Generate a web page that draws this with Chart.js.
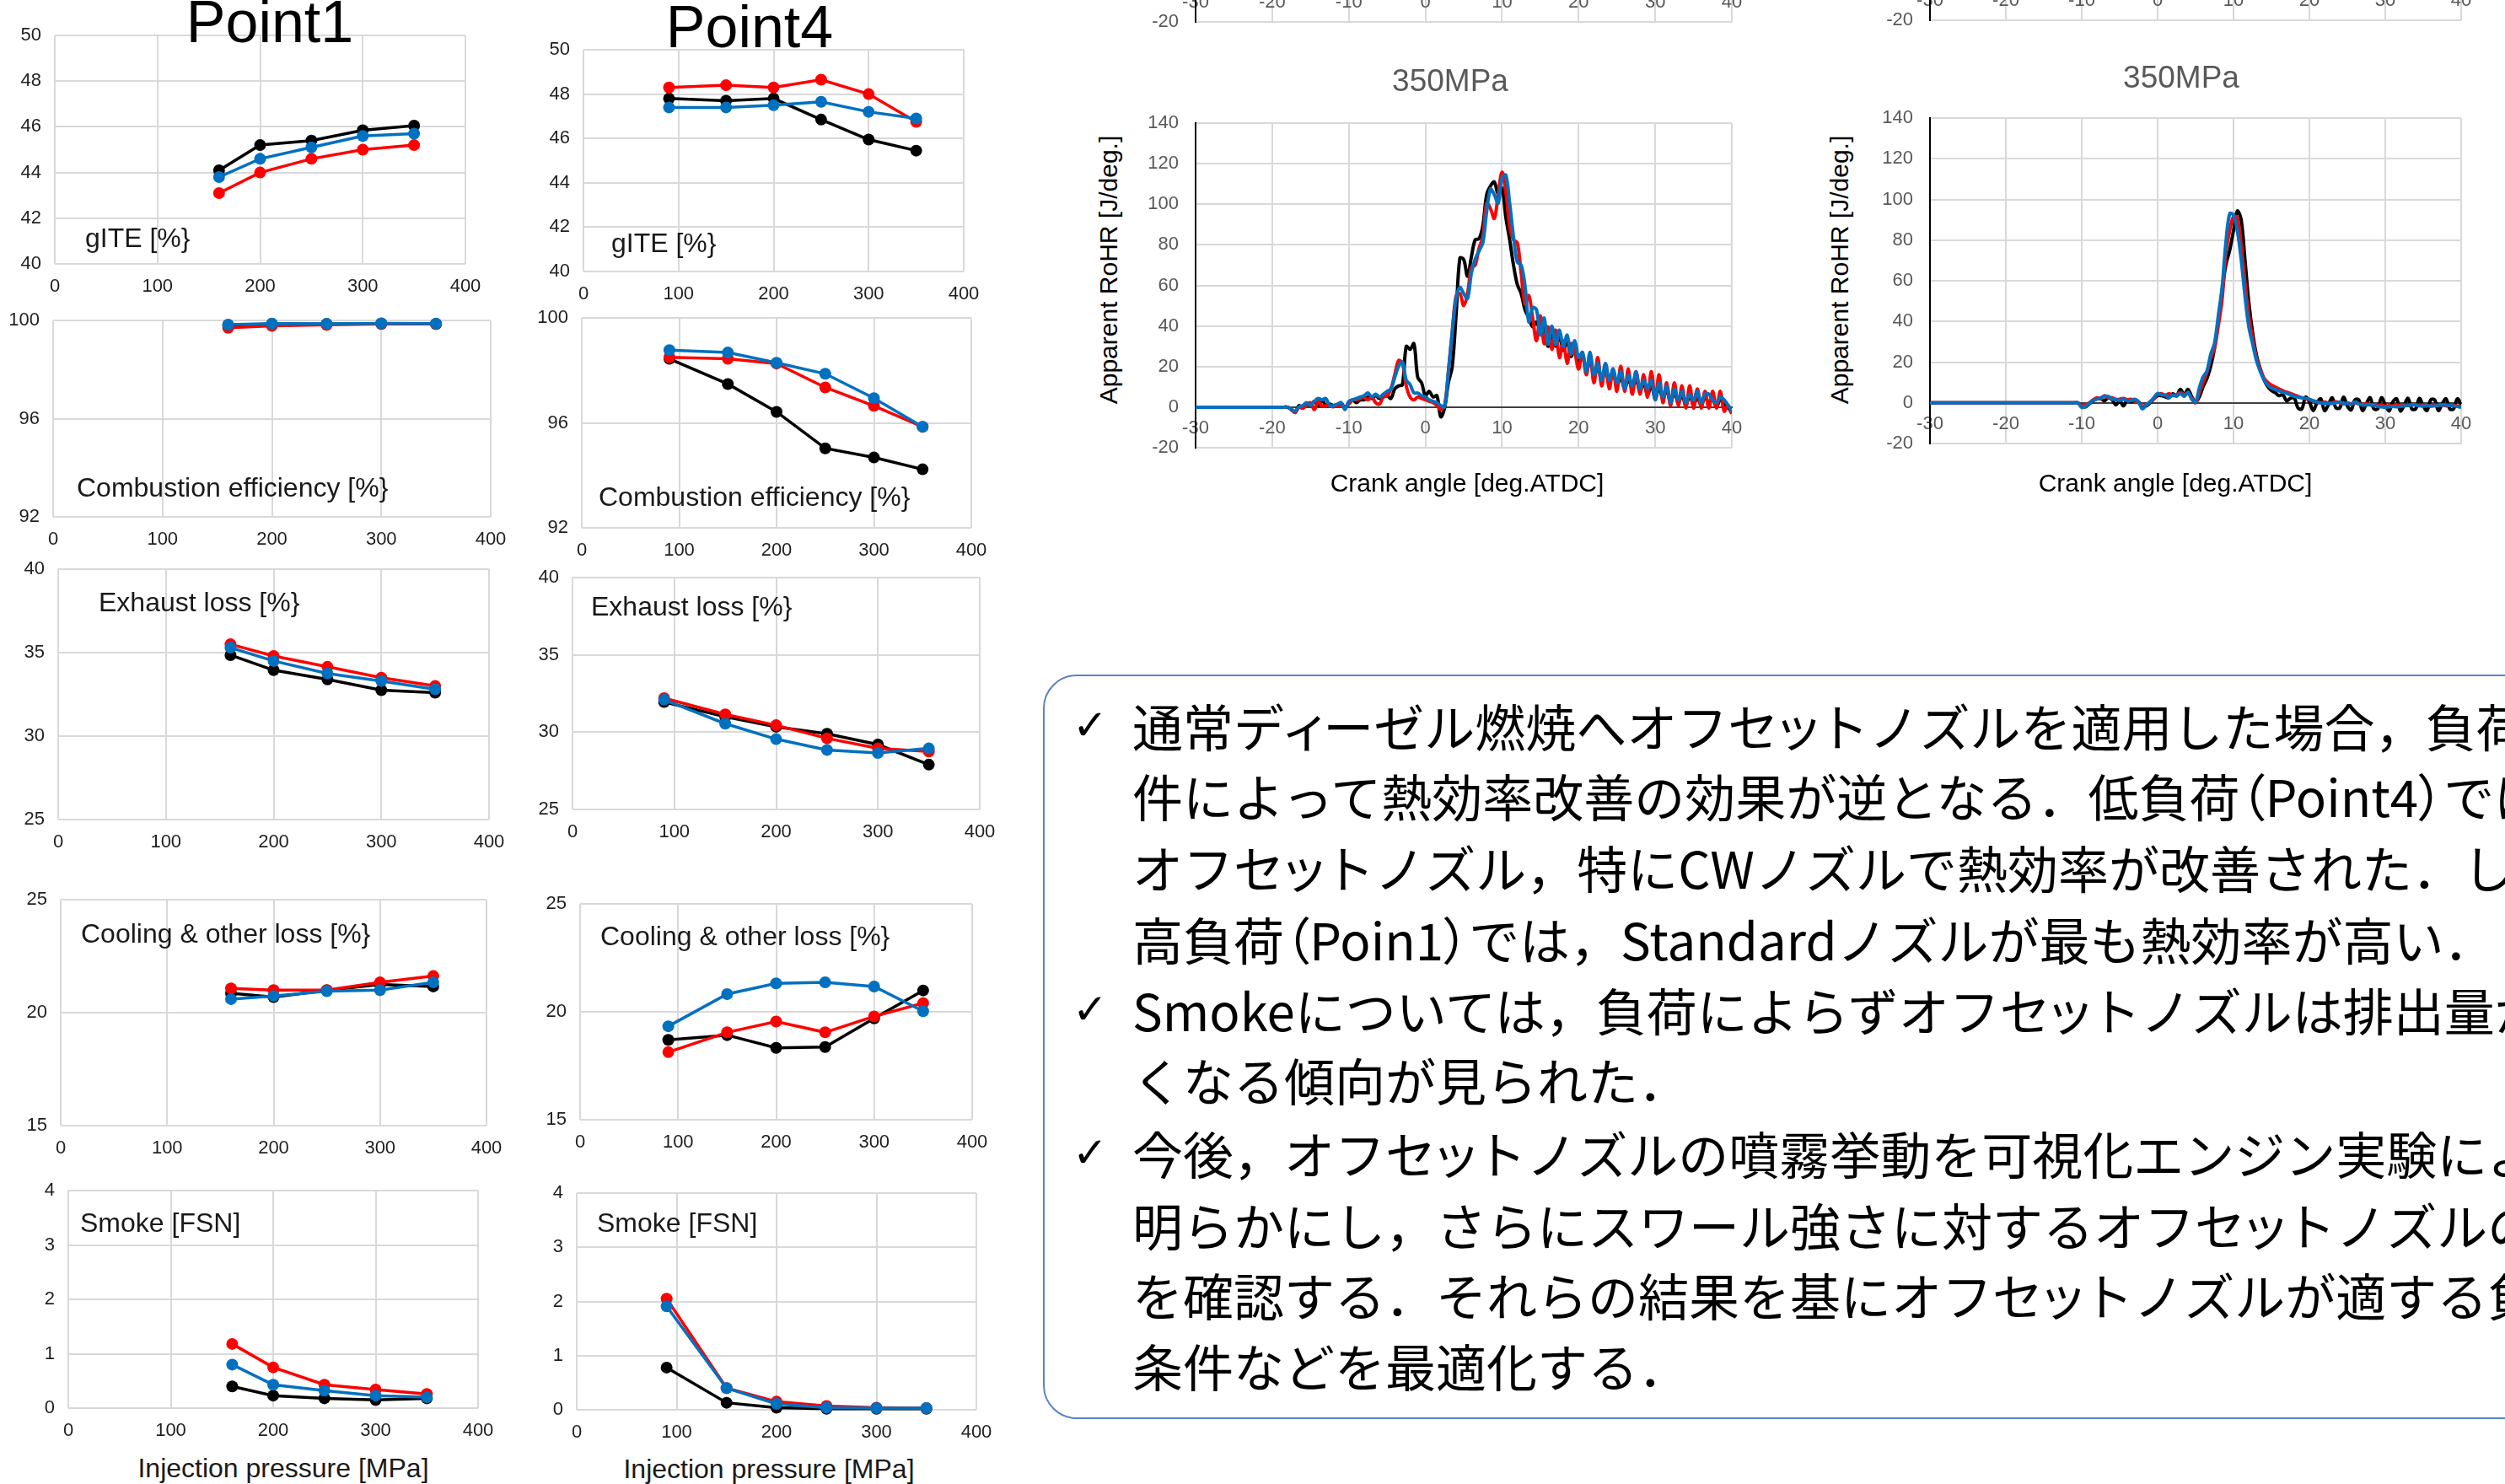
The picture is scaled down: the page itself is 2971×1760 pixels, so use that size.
<!DOCTYPE html>
<html>
<head>
<meta charset="utf-8">
<script src="https://cdn.jsdelivr.net/npm/chart.js@4.4.1/dist/chart.umd.min.js"></script>
<style>
body { margin:0; width:2971px; height:1760px; overflow:hidden; background:#fff; position:relative;
       font-family:"Liberation Sans", Arial, sans-serif; }
canvas { position:absolute; }
.t { position:absolute; white-space:nowrap; line-height:1; color:#1a1a1a; }
.lab { font-size:32px; transform:translate(0,-50%); }
.ctr { transform:translate(-50%,-50%); }
.big { font-size:70px; color:#000; }
.gray { color:#595959; }
.rot { transform:translate(-50%,-50%) rotate(-90deg); font-size:30px; color:#000; }
#box { position:absolute; left:1237px; top:800px; width:1800px; height:879px;
       border:2px solid #5a82c8; border-radius:40px; }
.jp { position:absolute; left:1343px; font-family:"Noto Sans CJK JP", sans-serif; font-size:60px;
      line-height:1; white-space:nowrap; color:#000; transform:translate(0,-50%); }
.jp .p { font-feature-settings:"palt"; }
.chk { position:absolute; left:1272px; font-family:"DejaVu Sans", sans-serif; font-size:50px;
       line-height:1; color:#000; transform:translate(0,-50%); }
</style>
</head>
<body>

<div class="t big ctr" style="left:320px;top:26px;">Point1</div>
<div class="t big ctr" style="left:889px;top:32px;">Point4</div>

<div class="t lab" style="left:101px;top:282px;">gITE [%}</div>
<div class="t lab" style="left:725px;top:288px;">gITE [%}</div>
<div class="t lab" style="left:91px;top:578px;">Combustion efficiency [%}</div>
<div class="t lab" style="left:710px;top:589px;">Combustion efficiency [%}</div>
<div class="t lab" style="left:117px;top:714px;">Exhaust loss [%}</div>
<div class="t lab" style="left:701px;top:719px;">Exhaust loss [%}</div>
<div class="t lab" style="left:96px;top:1107px;">Cooling &amp; other loss [%}</div>
<div class="t lab" style="left:712px;top:1110px;">Cooling &amp; other loss [%}</div>
<div class="t lab" style="left:95px;top:1450px;">Smoke [FSN]</div>
<div class="t lab" style="left:708px;top:1450px;">Smoke [FSN]</div>
<div class="t ctr" style="left:336px;top:1741px;font-size:32px;">Injection pressure [MPa]</div>
<div class="t ctr" style="left:912px;top:1742px;font-size:32px;">Injection pressure [MPa]</div>

<div class="t ctr gray" style="left:1720px;top:95px;font-size:37px;">350MPa</div>
<div class="t ctr gray" style="left:2587px;top:91px;font-size:37px;">350MPa</div>
<div class="t rot" style="left:1315px;top:320px;">Apparent RoHR [J/deg.]</div>
<div class="t rot" style="left:2182px;top:320px;">Apparent RoHR [J/deg.]</div>
<div class="t ctr" style="left:1740px;top:573px;font-size:30px;color:#000;">Crank angle [deg.ATDC]</div>
<div class="t ctr" style="left:2580px;top:573px;font-size:30px;color:#000;">Crank angle [deg.ATDC]</div>

<div id="box"></div>
<div class="chk" style="top:860px;">✓</div>
<div class="jp" style="top:860px;">通常デ<span class="p">ィ</span>ーゼル燃焼へオフセ<span class="p">ッ</span>トノズルを適用した場合，負荷条</div>
<div class="jp" style="top:943px;">件によって熱効率改善の効果が逆となる．低負荷<span class="p">（</span>Point4<span class="p">）</span>では</div>
<div class="jp" style="top:1028px;">オフセ<span class="p">ッ</span>トノズル，特にCWノズルで熱効率が改善された．しかし</div>
<div class="jp" style="top:1113px;">高負荷<span class="p">（</span>Poin1<span class="p">）</span>では，Standardノズルが最も熱効率が高い．</div>
<div class="chk" style="top:1197px;">✓</div>
<div class="jp" style="top:1197px;">Smokeについては，負荷によらずオフセ<span class="p">ッ</span>トノズルは排出量が多</div>
<div class="jp" style="top:1280px;">くなる傾向が見られた．</div>
<div class="chk" style="top:1367px;">✓</div>
<div class="jp" style="top:1367px;">今後，オフセ<span class="p">ッ</span>トノズルの噴霧挙動を可視化エンジン実験により</div>
<div class="jp" style="top:1452px;">明らかにし，さらにスワール強さに対するオフセ<span class="p">ッ</span>トノズルの効果</div>
<div class="jp" style="top:1535px;">を確認する．それらの結果を基にオフセ<span class="p">ッ</span>トノズルが適する負荷</div>
<div class="jp" style="top:1619px;">条件などを最適化する．</div>

<script>
// injection pressures [MPa]
const p1Press = [160, 200, 250, 300, 350];
const p4Press = [90, 150, 200, 250, 300, 350];

// Point1 (black = Standard, red = CW, blue = CCW)
const p1GiteStd = [44.1, 45.2, 45.4, 45.85, 46.05];
const p1GiteCw  = [43.1, 44.0, 44.6, 45.0, 45.2];
const p1GiteCcw = [43.8, 44.6, 45.1, 45.6, 45.7];
const p1CombStd = [99.8, 99.85, 99.85, 99.87, 99.85];
const p1CombCw  = [99.7, 99.78, 99.82, 99.85, 99.85];
const p1CombCcw = [99.83, 99.87, 99.86, 99.88, 99.87];
const p1ExhStd = [34.85, 33.95, 33.4, 32.75, 32.6];
const p1ExhCw  = [35.5, 34.8, 34.15, 33.5, 33.0];
const p1ExhCcw = [35.3, 34.5, 33.75, 33.3, 32.8];
const p1CoolStd = [20.86, 20.69, 20.99, 21.25, 21.16];
const p1CoolCw  = [21.07, 21.0, 21.0, 21.34, 21.62];
const p1CoolCcw = [20.6, 20.74, 20.95, 21.0, 21.34];
const p1SmokeStd = [0.4, 0.23, 0.18, 0.15, 0.18];
const p1SmokeCw  = [1.18, 0.75, 0.43, 0.34, 0.26];
const p1SmokeCcw = [0.8, 0.43, 0.32, 0.23, 0.2];

// Point4
const p4GiteStd = [47.8, 47.7, 47.8, 46.85, 45.95, 45.45];
const p4GiteCw  = [48.3, 48.4, 48.3, 48.65, 48.0, 46.75];
const p4GiteCcw = [47.4, 47.4, 47.5, 47.65, 47.2, 46.9];
const p4CombStd = [98.44, 97.48, 96.42, 95.03, 94.68, 94.23];
const p4CombCw  = [98.5, 98.44, 98.26, 97.35, 96.65, 95.85];
const p4CombCcw = [98.77, 98.68, 98.29, 97.87, 96.94, 95.85];
const p4ExhStd = [31.95, 31.0, 30.35, 29.9, 29.2, 27.9];
const p4ExhCw  = [32.2, 31.15, 30.45, 29.6, 28.95, 28.75];
const p4ExhCcw = [32.1, 30.55, 29.55, 28.85, 28.65, 28.95];
const p4CoolStd = [18.7, 18.92, 18.33, 18.37, 19.7, 20.99];
const p4CoolCw  = [18.13, 19.05, 19.55, 19.05, 19.79, 20.4];
const p4CoolCcw = [19.33, 20.82, 21.32, 21.37, 21.17, 20.03];
const p4SmokeStd = [0.78, 0.13, 0.04, 0.02, 0.02, 0.02];
const p4SmokeCw  = [2.05, 0.4, 0.15, 0.07, 0.04, 0.03];
const p4SmokeCcw = [1.91, 0.4, 0.11, 0.04, 0.03, 0.03];

// crank angle [deg.ATDC]
const crank = [
  -30,-29.5,-29,-28.5,-28,-27.5,-27,-26.5,-26,-25.5,
  -25,-24.5,-24,-23.5,-23,-22.5,-22,-21.5,-21,-20.5,
  -20,-19.5,-19,-18.5,-18,-17.5,-17,-16.5,-16,-15.5,
  -15,-14.5,-14,-13.5,-13,-12.5,-12,-11.5,-11,-10.5,
  -10,-9.5,-9,-8.5,-8,-7.5,-7,-6.5,-6,-5.5,
  -5,-4.5,-4,-3.5,-3,-2.5,-2,-1.5,-1,-0.5,
  0,0.5,1,1.5,2,2.5,3,3.5,4,4.5,
  5,5.5,6,6.5,7,7.5,8,8.5,9,9.5,
  10,10.5,11,11.5,12,12.5,13,13.5,14,14.5,
  15,15.5,16,16.5,17,17.5,18,18.5,19,19.5,
  20,20.5,21,21.5,22,22.5,23,23.5,24,24.5,
  25,25.5,26,26.5,27,27.5,28,28.5,29,29.5,
  30,30.5,31,31.5,32,32.5,33,33.5,34,34.5,
  35,35.5,36,36.5,37,37.5,38,38.5,39,39.5,
  40
];

// RoHR, Point1 350MPa
const rohrP1Std = [
  0,0,0,0,0,0,0,0,0,0,
  0,0,0,0,0,0,0,0,0,0,
  0,0,0,0,0,-1.2,-2.6,0.8,-0.5,1.5,
  0.8,2.9,0.8,3.6,0.8,1.5,0.8,0.8,2.2,-0.5,
  2.2,3.6,2.2,3.6,3.6,5,4.3,5.7,4.3,5,
  5.7,4.3,9,10.5,11,30,28.5,31.3,14.7,12,
  5.7,7.8,5,5.7,-4.7,-0.5,12,20,45,73.5,
  72.8,64.5,74,82.5,83,89.5,104.7,109,111,105,
  108,93.6,82.5,70,60.4,56,48,44,39.6,42,
  38,40,30,36,30,35,28,33,25,30,
  22,26,17,24,15,20,13,19,12,17,
  11,15,9,14,9,14,8,12,6,11,
  4,10,4,9,2,8,2,6,1,6,
  1,5,1,5,2,4,0,4,1,0,
  -3
];
const rohrP1Cw = [
  0,0,0,0,0,0,0,0,0,0,
  0,0,0,0,0,0,0,0,0,0,
  0,0,0,0,0,-1,-2.6,0,-0.5,1,
  2.2,-1.2,2.9,0.5,0.8,0.5,0.2,0.8,0.8,0.2,
  1.5,3.6,3.6,4.3,5,3.6,5,2.2,1.5,5,
  5.7,9,16,23,21.6,10.5,5,3.6,5,4.3,
  3.6,2.9,2.2,0.8,-1.2,0.8,17.5,36.8,54.8,56,
  50,56,68.7,70,78.4,84,100.5,97.8,93,104.7,
  115.8,106,89,82.5,81,66,50.7,55,44,32.7,
  45,31.3,39.6,28.5,38,24.4,32.7,21.6,31.3,27,
  18.8,27,16,25.8,12,24.4,10.5,20.2,9,18.8,
  7.8,20.2,7.8,18.8,6.4,17.5,6.4,16,5,17.5,
  3.6,16,2.2,12,0.8,12,0.8,10.5,-0.5,10.5,
  -0.5,9,-0.5,7.8,-0.5,7.8,-0.5,7.8,-2,1,
  -3.3
];
const rohrP1Ccw = [
  0,0,0,0,0,0,0,0,0,0,
  0,0,0,0,0,0,0,0,0,0,
  0,0,0,0,0,-1,-2,0.1,0.8,2.2,
  0.8,2.9,4.3,3.6,4.3,0.8,0.8,1.5,2.2,-1.2,
  2.9,3.6,4.3,5,5.7,7,5,6.4,5,6.4,
  7.8,9,14.7,20.2,22.3,13.3,11.2,7,7,5.7,
  5,3.6,2.9,2.2,0.8,0.1,17.5,37,53.5,59,
  56,53.5,66,73,77,81,96.4,107.5,104.7,100.5,
  113,114.4,100.5,84,71.5,70,60,42,49,48,
  35.5,44,31,40,31,38,30,35.5,26,32.7,
  24.4,27,17.5,27,16,21.6,13.3,21.6,13.3,18.8,
  12,17.5,9,16,10.5,17.5,9,13.3,9,13.3,
  3.6,12,5,10.5,2.2,9,3.6,7.8,2.2,6.4,
  3.6,7.8,2.2,6.4,6.4,3.6,2.2,5,3.6,1,
  -2
];

// RoHR, Point4 350MPa
const rohrP4Std = [
  0,0,0,0,0,0,0,0,0,0,
  0,0,0,0,0,0,0,0,0,0,
  0,0,0,0,0,0,0,0,0,0,
  0,0,0,0,0,0,0,0,0,0,
  -1.5,-2,-0.5,1,2,2,1,2.5,1.5,-1,
  1,-1.5,1.5,0.5,1.5,0.5,-2,-1.5,0,2,
  3.5,3.5,3,2.5,4.5,3.5,6.6,4,6.6,3,
  0.4,3,8,12,18,27,40,55,68,75,
  84.7,94.3,90.2,70.9,50,35,23.9,17,11.5,8,
  6,5,3.5,4,1,2.2,2.5,-2.5,-3,2.8,
  0.5,-3.8,0,2,-3.8,-1,2.5,-2.5,-2.5,2.8,
  -1.5,-3.5,1.5,1.5,-3.8,-0.5,2.5,-3,-3,2.5,
  -1,-4,0.5,2,-4,-1,2.2,-3,-3,2.2,
  -1.5,-3.8,1.5,1.5,-3.8,-0.5,2,-3,-3,2,
  -1
];
const rohrP4Cw = [
  0,0,0,0,0,0,0,0,0,0,
  0,0,0,0,0,0,0,0,0,0,
  0,0,0,0,0,0,0,0,0,0,
  0,0,0,0,0,0,0,0,0,0,
  -1.5,-1,0,1.5,2.5,2,3.5,2.5,2.5,1.5,
  1.8,2.2,1.5,1.8,1,0,-1.5,-1,0.5,2,
  3.9,4.6,3.5,4.6,3.5,3.9,5,4.2,4.6,2.5,
  0,5,10,15,22,27,38,51,73.6,84.7,
  91.6,91,77.8,59.8,43.2,32.2,22.5,17,12.2,10.1,
  8.7,7.8,6.8,6,5.2,4.6,3.9,3.2,2.5,2,
  1.5,1,0.5,0,0.4,-0.3,0,0.5,0,-0.5,
  0,-0.5,0,-0.5,-0.8,-0.5,-1,-0.8,-1.3,-1,
  -1.7,-1.3,-1.5,-1,-1.3,-1,-1.3,-0.8,-1,-1.3,
  -1,-1.3,-1.5,-1,-1.3,-1,-1.5,-1.3,-1.3,-1.5,
  -2
];
const rohrP4Ccw = [
  0,0,0,0,0,0,0,0,0,0,
  0,0,0,0,0,0,0,0,0,0,
  0,0,0,0,0,0,0,0,0,0,
  0,0,0,0,0,0,0,0,0,0,
  -2.3,-1.7,-0.3,1.1,1.8,2.5,3.2,3.2,1.8,1.8,
  1.1,1.8,1.1,1.1,1.8,0.4,-3,-1,0.4,2.5,
  4.6,3.9,3.9,2.5,3.9,3.2,4.6,3.2,5.2,1.8,
  0.4,7.3,12.8,15.6,23.9,29.4,43,57,79,93,
  92.3,84.7,70.9,52.9,37.7,29.4,21.1,15.6,11.5,8.7,
  7.3,6.6,5.9,5.2,4.6,3.9,3.2,2.8,2.5,2.2,
  1.8,1,0.4,0,-0.3,-0.3,-0.3,0,0.4,-0.3,
  -0.3,-0.8,0.4,-0.5,-1,-1,-1,-1.3,-1.7,-2,
  -2.3,-2,-1.7,-2,-1.7,-1.5,-1.3,-1,-1,-1.5,
  -1.7,-1.3,-1.7,-1.5,-1.3,-1,-1,-1.3,-1.5,-1.8,
  -2.3
];

const BLACK = '#000000', RED = '#ff0000', BLUE = '#0070c0';
const GRID = '#d9d9d9';

Chart.defaults.font.family = '"Liberation Sans", Arial, sans-serif';

function addCanvas(left, top, w, h) {
    const c = document.createElement('canvas');
    c.width = w; c.height = h;
    c.style.left = left + 'px';
    c.style.top = top + 'px';
    c.style.width = w + 'px';
    c.style.height = h + 'px';
    document.body.insertBefore(c, document.body.firstChild);
    return c.getContext('2d');
}

// rect = plot area [left, top, right, bottom] in page pixels
function smallChart(rect, xs, std, cw, ccw, yMin, yMax, yStep) {
    const [L, T, R, B] = rect;
    // padT covers half a tick label plus tick padding, which Chart.js reserves anyway
    const yW = 60, padT = 32, padR = 44, xH = 40;
    const ctx = addCanvas(L - yW, T - padT, yW + (R - L) + padR, padT + (B - T) + xH);
    // first dataset is drawn on top: blue, then red, black underneath
    const sets = [[ccw, BLUE], [cw, RED], [std, BLACK]].map(([vals, col]) => ({
        data: xs.map((x, i) => ({ x: x, y: vals[i] })),
        borderColor: col, backgroundColor: col,
        borderWidth: 3.5, pointRadius: 7, pointHoverRadius: 7, pointBorderWidth: 0,
        tension: 0, clip: false
    }));
    new Chart(ctx, {
        type: 'line',
        data: { datasets: sets },
        options: {
            responsive: false, animation: false, devicePixelRatio: 1,
            layout: { padding: { top: padT, right: padR, left: 0, bottom: 0 } },
            plugins: { legend: { display: false }, tooltip: { enabled: false } },
            scales: {
                x: {
                    type: 'linear', min: 0, max: 400,
                    afterFit: s => { s.height = xH; },
                    ticks: { stepSize: 100, padding: 14, color: '#1f1f1f', font: { size: 22 }, maxRotation: 0 },
                    grid: { color: GRID, lineWidth: 2, drawTicks: false },
                    border: { display: false }
                },
                y: {
                    min: yMin, max: yMax,
                    afterFit: s => { s.width = yW; },
                    ticks: { stepSize: yStep, padding: 16, color: '#1f1f1f', font: { size: 22 } },
                    grid: { color: GRID, lineWidth: 2, drawTicks: false },
                    border: { display: false }
                }
            }
        }
    });
}

// left/top = plot area corner in page pixels
function rohrChart(left, top, plotW, plotH, std, cw, ccw) {
    const yW = 78, padT = 36, padR = 32, padB = 36;
    const ctx = addCanvas(left - yW, top - padT, yW + plotW + padR, padT + plotH + padB);
    const sets = [[ccw, BLUE], [cw, RED], [std, BLACK]].map(([vals, col]) => ({
        data: vals ? crank.map((a, i) => ({ x: a, y: vals[i] })) : [],
        borderColor: col, borderWidth: 4, pointRadius: 0, tension: 0.35
    }));
    new Chart(ctx, {
        type: 'line',
        data: { datasets: sets },
        options: {
            responsive: false, animation: false, devicePixelRatio: 1,
            layout: { padding: { top: padT, right: padR, left: 0, bottom: padB } },
            plugins: { legend: { display: false }, tooltip: { enabled: false } },
            scales: {
                x: {
                    type: 'linear', position: { y: 0 }, min: -30, max: 40,
                    afterFit: s => { s.height = 0; },
                    ticks: { stepSize: 10, padding: 12, color: '#595959', font: { size: 22 }, maxRotation: 0 },
                    grid: { color: GRID, lineWidth: 2, drawTicks: false },
                    border: { color: '#404040', width: 2 }
                },
                y: {
                    min: -20, max: 140,
                    afterFit: s => { s.width = yW; },
                    ticks: { stepSize: 20, padding: 20, color: '#595959', font: { size: 22 } },
                    grid: { color: GRID, lineWidth: 2, drawTicks: false },
                    border: { color: '#000000', width: 2 }
                }
            }
        }
    });
}

// Point1 column
smallChart([65, 42, 552, 313], p1Press, p1GiteStd, p1GiteCw, p1GiteCcw, 40, 50, 2);
smallChart([63, 380, 582, 613], p1Press, p1CombStd, p1CombCw, p1CombCcw, 92, 100, 4);
smallChart([69, 675, 580, 972], p1Press, p1ExhStd, p1ExhCw, p1ExhCcw, 25, 40, 5);
smallChart([72, 1067, 577, 1335], p1Press, p1CoolStd, p1CoolCw, p1CoolCcw, 15, 25, 5);
smallChart([81, 1412, 567, 1670], p1Press, p1SmokeStd, p1SmokeCw, p1SmokeCcw, 0, 4, 1);

// Point4 column
smallChart([692, 59, 1143, 322], p4Press, p4GiteStd, p4GiteCw, p4GiteCcw, 40, 50, 2);
smallChart([690, 377, 1152, 626], p4Press, p4CombStd, p4CombCw, p4CombCcw, 92, 100, 4);
smallChart([679, 685, 1162, 960], p4Press, p4ExhStd, p4ExhCw, p4ExhCcw, 25, 40, 5);
smallChart([688, 1072, 1153, 1328], p4Press, p4CoolStd, p4CoolCw, p4CoolCcw, 15, 25, 5);
smallChart([684, 1415, 1158, 1672], p4Press, p4SmokeStd, p4SmokeCw, p4SmokeCcw, 0, 4, 1);

// heat release charts (the upper pair is cut off by the page top)
rohrChart(1418, 146 - 505, 636, 385, null, null, null);
rohrChart(2289, 140 - 502, 630, 386, null, null, null);
rohrChart(1418, 146, 636, 385, rohrP1Std, rohrP1Cw, rohrP1Ccw);
rohrChart(2289, 140, 630, 386, rohrP4Std, rohrP4Cw, rohrP4Ccw);
</script>
</body>
</html>
